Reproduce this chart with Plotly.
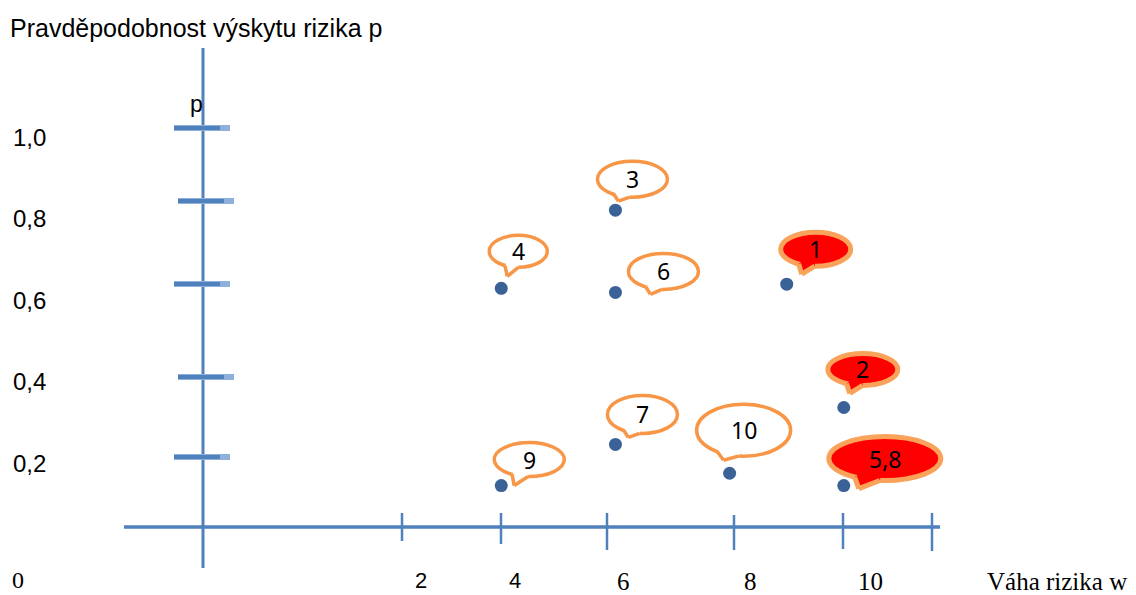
import math
import plotly.graph_objects as go

# ---------------- data ----------------
RISK_LABELS = ["1", "2", "3", "4", "5,8", "6", "7", "9", "10"]
WEIGHT_W = [9, 10, 6, 4, 10, 6, 6, 4, 8]
PROB_P = [0.62, 0.32, 0.80, 0.61, 0.13, 0.60, 0.23, 0.13, 0.16]
HIGH_RISK = [True, True, False, False, True, False, False, False, False]

Y_TICK_LABELS = ["1,0", "0,8", "0,6", "0,4", "0,2"]
X_TICK_LABELS = ["2", "4", "6", "8", "10"]
TITLE_Y = "Pravděpodobnost výskytu rizika p"
TITLE_X = "Váha rizika w"

# ---------------- layout / geometry (pixels) ----------------
W, H = 1136, 595
PX0, PX_PER = 272.9, 57.09      # x pixel = PX0 + PX_PER * w
PY0, PY_PER = 539.0, 411.0      # y pixel = PY0 - PY_PER * p


def X(px):
    return (px - PX0) / PX_PER


def Y(py):
    return (PY0 - py) / PY_PER


def PX(w):
    return PX0 + PX_PER * w


def PY(p):
    return PY0 - PY_PER * p


AXIS_COLOR = "#4f81bd"
ORANGE = "#f79646"
ORANGE_RED = "#f9a35a"
RED = "#ff0000"
DOT = "#3a6296"
SANS = "Liberation Sans, Arial"
SERIF = "Liberation Serif, Times New Roman"

# callout style: ellipse centre offset, semi-axes, tail tip offset (relative to the point, px)
CALLOUT = {
    "3": (17, -31, 35, 18, 3, -9),
    "4": (17, -37, 29, 16, 6, -12),
    "6": (48, -21, 35, 18, 35, 2),
    "1": (29, -35, 35, 17, 15, -10),
    "2": (19, -38, 35, 16, 6, -14),
    "7": (27, -30, 35, 19, 13, -7),
    "10": (14, -43, 47, 26, -6, -13),
    "9": (28, -26, 35, 17, 13, 0),
    "5,8": (41, -27, 56, 22, 15, 3),
}

shapes = []
annotations = []

# vertical axis
shapes.append(dict(type="line", x0=X(203), x1=X(203), y0=Y(48), y1=Y(568),
                   line=dict(color=AXIS_COLOR, width=3)))
# horizontal axis
shapes.append(dict(type="line", x0=X(124), x1=X(940), y0=Y(527), y1=Y(527),
                   line=dict(color=AXIS_COLOR, width=3.5)))

# y tick dashes (hand drawn positions)
Y_DASH_PX = [128, 201, 284, 377, 457]
Y_DASH_X = [(174, 230), (178, 234), (174, 230), (178, 234), (174, 230)]
for py, (xa, xb) in zip(Y_DASH_PX, Y_DASH_X):
    shapes.append(dict(type="line", x0=X(xa), x1=X(xb), y0=Y(py), y1=Y(py),
                       line=dict(color="#8fb0dc", width=6)))
    shapes.append(dict(type="line", x0=X(xa), x1=X(xb - 10), y0=Y(py), y1=Y(py),
                       line=dict(color="#4f81bd", width=4)))

# x tick marks
X_TICK_PX = [402, 501, 607, 734, 843, 932]
X_TICK_Y = [(513, 541), (513, 544), (513, 550), (515, 550), (513, 549), (513, 551)]
for px, (ya, yb) in zip(X_TICK_PX, X_TICK_Y):
    shapes.append(dict(type="line", x0=X(px), x1=X(px), y0=Y(ya), y1=Y(yb),
                       line=dict(color=AXIS_COLOR, width=2.5)))

# y tick labels
Y_LABEL_PX = [137, 218, 300, 381, 463]
for lab, py in zip(Y_TICK_LABELS, Y_LABEL_PX):
    annotations.append(dict(x=X(11), y=Y(py), text=lab, showarrow=False,
                            xanchor="left", yanchor="middle",
                            font=dict(family=SANS, size=24, color="black")))

# x tick labels ("2", "4" sans; the others serif, as in the drawing)
X_LABEL_PX = [(421, 580), (515, 580), (623, 581), (750, 581), (870, 581)]
X_LABEL_FONT = [(SANS, 22), (SANS, 22), (SERIF, 25), (SERIF, 25), (SERIF, 25)]
for lab, (px, py), (fam, sz) in zip(X_TICK_LABELS, X_LABEL_PX, X_LABEL_FONT):
    annotations.append(dict(x=X(px), y=Y(py), text=lab, showarrow=False,
                            xanchor="center", yanchor="middle", borderpad=0,
                            font=dict(family=fam, size=sz, color="black")))
annotations.append(dict(x=X(18), y=Y(580), text="0", showarrow=False,
                        xanchor="center", yanchor="middle", borderpad=0,
                        font=dict(family=SERIF, size=24, color="black")))
annotations.append(dict(x=X(986), y=Y(581), text=TITLE_X, showarrow=False,
                        xanchor="left", yanchor="middle", borderpad=0,
                        font=dict(family=SERIF, size=25, color="black")))
annotations.append(dict(x=X(8), y=Y(28), text=TITLE_Y, showarrow=False,
                        xanchor="left", yanchor="middle",
                        font=dict(family=SANS, size=25, color="black")))
annotations.append(dict(x=X(196), y=Y(104), text="p", showarrow=False,
                        xanchor="center", yanchor="middle",
                        font=dict(family=SANS, size=23, color="black")))

# speech-bubble callouts
for lab, w, p, hot in zip(RISK_LABELS, WEIGHT_W, PROB_P, HIGH_RISK):
    dx, dy, a, b, tdx, tdy = CALLOUT[lab]
    px, py = PX(w), PY(p)
    cx, cy = px + dx, py + dy
    tx, ty = px + tdx, py + tdy
    fill = RED if hot else "white"
    edge = ORANGE_RED if hot else ORANGE
    lw = 5 if hot else 3.5
    shapes.append(dict(type="circle", x0=X(cx - a), x1=X(cx + a), y0=Y(cy - b), y1=Y(cy + b),
                       fillcolor=fill, line=dict(color=edge, width=lw)))
    phi = math.atan2((ty - cy) / b, (tx - cx) / a)
    d = 0.24
    e1 = (cx + a * math.cos(phi - d), cy + b * math.sin(phi - d))
    e2 = (cx + a * math.cos(phi + d), cy + b * math.sin(phi + d))
    i1 = (cx + 0.7 * (e1[0] - cx), cy + 0.7 * (e1[1] - cy))
    i2 = (cx + 0.7 * (e2[0] - cx), cy + 0.7 * (e2[1] - cy))
    pts = [i1, e1, (tx, ty), e2, i2]
    path = "M " + " L ".join(f"{X(u):.5f},{Y(v):.5f}" for u, v in pts) + " Z"
    shapes.append(dict(type="path", path=path, fillcolor=fill, line=dict(width=0)))
    for e in (e1, e2):
        shapes.append(dict(type="line", x0=X(e[0]), y0=Y(e[1]), x1=X(tx), y1=Y(ty),
                           line=dict(color=edge, width=lw)))
    annotations.append(dict(x=X(cx), y=Y(cy), text=lab, showarrow=False,
                            xanchor="center", yanchor="middle",
                            font=dict(family="Noto Sans, Open Sans", size=23, color="black")))

fig = go.Figure()
fig.add_trace(go.Scatter(x=WEIGHT_W, y=PROB_P, mode="markers", text=RISK_LABELS,
                         marker=dict(size=13, color=DOT, line=dict(width=0)),
                         hoverinfo="text", showlegend=False))

fig.update_layout(
    width=W, height=H,
    margin=dict(l=0, r=0, t=0, b=0),
    paper_bgcolor="white", plot_bgcolor="white",
    xaxis=dict(range=[X(0), X(W)], visible=False, fixedrange=True),
    yaxis=dict(range=[Y(H), Y(0)], visible=False, fixedrange=True),
    shapes=shapes,
    annotations=annotations,
    showlegend=False,
)

fig.write_html("out.html", config={"displayModeBar": False},
               post_script="document.body.style.margin='0';document.body.style.overflow='hidden';")
